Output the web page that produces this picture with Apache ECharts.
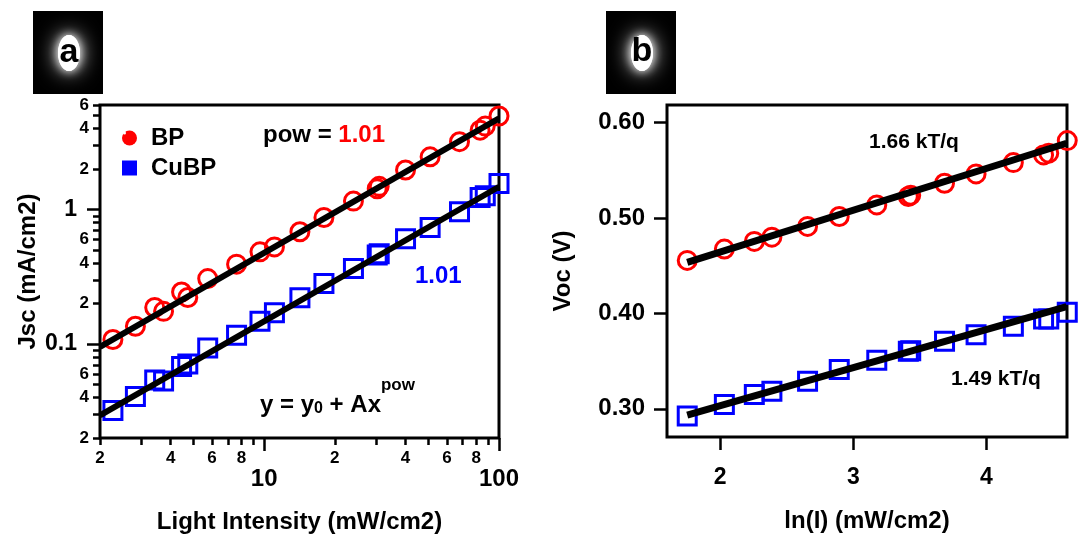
<!DOCTYPE html>
<html>
<head>
<meta charset="utf-8">
<script src="https://cdn.jsdelivr.net/npm/echarts@6/dist/echarts.min.js"></script>
<style>
  html, body { margin: 0; padding: 0; background: #fff; }
  #main { width: 1078px; height: 538px; }
</style>
</head>
<body>
<div id="main"></div>
<script>
// panel a: Jsc vs light intensity (log-log)
var intensity = [2.27, 2.83, 3.42, 3.73, 4.45, 4.73, 5.75, 7.63, 9.6, 11.06, 14.2, 17.97, 24.0, 30.3, 30.9, 40.0, 50.9, 67.9, 83.1, 87.4, 100];
var jscBP = [0.108, 0.1356, 0.187, 0.175, 0.244, 0.222, 0.307, 0.393, 0.485, 0.528, 0.684, 0.874, 1.157, 1.43, 1.49, 1.97, 2.47, 3.2, 3.9, 4.18, 4.97];
var jscCuBP = [0.0321, 0.0408, 0.054, 0.053, 0.068, 0.071, 0.0935, 0.116, 0.148, 0.1706, 0.2205, 0.282, 0.365, 0.46, 0.47, 0.606, 0.736, 0.963, 1.23, 1.27, 1.566];
var fitBP = [[2, 0.0952], [100, 4.77]];
var fitCuBP = [[2, 0.0295], [100, 1.479]];

// panel b: Voc vs ln(I)
var lnI = [1.752, 2.031, 2.256, 2.388, 2.656, 2.894, 3.176, 3.413, 3.431, 3.685, 3.922, 4.202, 4.429, 4.468, 4.607];
var vocBP = [0.4556, 0.4675, 0.4755, 0.480, 0.4912, 0.5016, 0.5138, 0.5226, 0.524, 0.5365, 0.5463, 0.5581, 0.5662, 0.568, 0.5812];
var vocCuBP = [0.2924, 0.3046, 0.315, 0.3185, 0.329, 0.3412, 0.351, 0.3604, 0.361, 0.3708, 0.3778, 0.3865, 0.3942, 0.3942, 0.4012];
var fitVocBP = [[1.752, 0.4535], [4.602, 0.5784]];
var fitVocCuBP = [[1.752, 0.2935], [4.602, 0.4072]];

// ticks
var xMinorTicks = [2, 3, 4, 5, 6, 7, 8, 9, 20, 30, 40, 50, 60, 70, 80, 90];
var xMinorLabels = [2, 4, 6, 8, 20, 40, 60, 80];
var xMajorTicks = [10, 100];
var yMinorTicks = [0.02, 0.03, 0.04, 0.05, 0.06, 0.07, 0.08, 0.09, 0.2, 0.3, 0.4, 0.5, 0.6, 0.7, 0.8, 0.9, 2, 3, 4, 5, 6];
var yMinorLabels = [0.02, 0.04, 0.06, 0.2, 0.4, 0.6, 2, 4, 6];
var yMajorTicks = [0.1, 1];
var vocTicks = [0.30, 0.40, 0.50, 0.60];
var lnITicks = [2, 3, 4];

var FONT = 'Liberation Sans, Arial, sans-serif';

function pairs(xs, ys) {
  return xs.map(function (x, i) { return [x, ys[i]]; });
}
function logs(arr) {
  return arr.map(function (v) { return Math.log10(v); });
}
// first digit of a log-space tick: 20 -> "2", 0.04 -> "4"
function mantissa(v) {
  var n = Math.pow(10, v);
  var e = Math.floor(Math.log10(n) + 1e-9);
  return String(Math.round(n / Math.pow(10, e)));
}
function decade(v) {
  return String(+Math.pow(10, v).toPrecision(3));
}

var tickLine = { color: '#000', width: 2.5 };
var noLine = { show: false, onZero: false };
var nameStyle = { color: '#000', fontSize: 24, fontWeight: 'bold', fontFamily: FONT };

function labelStyle(size, margin, values, fmt) {
  return {
    customValues: values, margin: margin, formatter: fmt,
    color: '#000', fontSize: size, fontWeight: 'bold', fontFamily: FONT
  };
}

var xLogMin = Math.log10(2), xLogMax = Math.log10(100);
var yLogMin = Math.log10(0.02), yLogMax = Math.log10(6);

var chart = echarts.init(document.getElementById('main'));

var option = {
  animation: false,
  backgroundColor: '#fff',
  grid: [
    { left: 100, top: 105, width: 399, height: 333, show: true, borderColor: '#000', borderWidth: 3, outerBoundsMode: 'none' },
    { left: 667, top: 105, width: 400, height: 332, show: true, borderColor: '#000', borderWidth: 3, outerBoundsMode: 'none' }
  ],
  legend: {
    orient: 'vertical', left: 117, top: 121, itemWidth: 15, itemHeight: 15, itemGap: 6,
    textStyle: { color: '#000', fontSize: 24, fontWeight: 'bold', fontFamily: FONT, padding: [0, 0, 0, 9] },
    data: [
      { name: 'BP', icon: 'circle', itemStyle: { color: '#ff0000', borderColor: '#ff0000', borderWidth: 0, opacity: 1 } },
      { name: 'CuBP', icon: 'rect', itemStyle: { color: '#0000ff', borderColor: '#0000ff', borderWidth: 0, opacity: 1 } }
    ]
  },
  xAxis: [
    {
      gridIndex: 0, type: 'log', logBase: 10, min: 2, max: 100,
      name: 'Light Intensity (mW/cm2)', nameLocation: 'middle', nameGap: 72, nameTextStyle: nameStyle, nameMoveOverlap: false,
      axisLine: noLine, axisTick: { show: false }, axisLabel: { show: false }, splitLine: { show: false }
    },
    {
      gridIndex: 0, type: 'value', position: 'bottom', min: xLogMin, max: xLogMax,
      axisLine: noLine, splitLine: { show: false },
      axisTick: { customValues: logs(xMinorTicks), length: 7, lineStyle: tickLine },
      axisLabel: labelStyle(17, 12, logs(xMinorLabels), mantissa)
    },
    {
      gridIndex: 0, type: 'value', position: 'bottom', min: xLogMin, max: xLogMax,
      axisLine: noLine, splitLine: { show: false },
      axisTick: { customValues: logs(xMajorTicks), length: 13, lineStyle: tickLine },
      axisLabel: labelStyle(24, 29, logs(xMajorTicks), decade)
    },
    {
      gridIndex: 1, type: 'value', min: 1.6, max: 4.605,
      name: 'ln(I) (mW/cm2)', nameLocation: 'middle', nameGap: 72, nameTextStyle: nameStyle, nameMoveOverlap: false,
      axisLine: noLine, splitLine: { show: false },
      axisTick: { customValues: lnITicks, length: 13, lineStyle: tickLine },
      axisLabel: labelStyle(23, 29, lnITicks, function (v) { return String(v); })
    }
  ],
  yAxis: [
    {
      gridIndex: 0, type: 'log', logBase: 10, min: 0.02, max: 6,
      name: 'Jsc (mA/cm2)', nameLocation: 'middle', nameGap: 60, nameTextStyle: nameStyle, nameMoveOverlap: false,
      axisLine: noLine, axisTick: { show: false }, axisLabel: { show: false }, splitLine: { show: false }
    },
    {
      gridIndex: 0, type: 'value', position: 'left', min: yLogMin, max: yLogMax,
      axisLine: noLine, splitLine: { show: false },
      axisTick: { customValues: logs(yMinorTicks), length: 7, lineStyle: tickLine },
      axisLabel: labelStyle(17, 11, logs(yMinorLabels), mantissa)
    },
    {
      gridIndex: 0, type: 'value', position: 'left', min: yLogMin, max: yLogMax,
      axisLine: noLine, splitLine: { show: false },
      axisTick: { customValues: logs(yMajorTicks), length: 13, lineStyle: tickLine },
      axisLabel: labelStyle(23, 23, logs(yMajorTicks), decade)
    },
    {
      gridIndex: 1, type: 'value', min: 0.2705, max: 0.6185,
      name: 'Voc (V)', nameLocation: 'middle', nameGap: 92, nameTextStyle: nameStyle, nameMoveOverlap: false,
      axisLine: noLine, splitLine: { show: false },
      axisTick: { customValues: vocTicks, length: 13, lineStyle: tickLine },
      axisLabel: labelStyle(24, 22, vocTicks, function (v) { return v.toFixed(2); })
    }
  ],
  series: [
    {
      name: 'BP', type: 'scatter', xAxisIndex: 0, yAxisIndex: 0, data: pairs(intensity, jscBP),
      symbol: 'circle', symbolSize: 18, clip: false,
      itemStyle: { color: 'rgba(0,0,0,0)', borderColor: '#ff0000', borderWidth: 3, opacity: 1 }
    },
    {
      name: 'CuBP', type: 'scatter', xAxisIndex: 0, yAxisIndex: 0, data: pairs(intensity, jscCuBP),
      symbol: 'rect', symbolSize: 18, clip: false,
      itemStyle: { color: 'rgba(0,0,0,0)', borderColor: '#0000ff', borderWidth: 3, opacity: 1 }
    },
    {
      type: 'line', xAxisIndex: 0, yAxisIndex: 0, data: fitBP, symbol: 'none', z: 5, clip: false,
      lineStyle: { color: '#000', width: 6 }
    },
    {
      type: 'line', xAxisIndex: 0, yAxisIndex: 0, data: fitCuBP, symbol: 'none', z: 5, clip: false,
      lineStyle: { color: '#000', width: 6 }
    },
    {
      name: 'BP', type: 'scatter', xAxisIndex: 3, yAxisIndex: 3, data: pairs(lnI, vocBP),
      symbol: 'circle', symbolSize: 18, clip: false,
      itemStyle: { color: 'rgba(0,0,0,0)', borderColor: '#ff0000', borderWidth: 3, opacity: 1 }
    },
    {
      name: 'CuBP', type: 'scatter', xAxisIndex: 3, yAxisIndex: 3, data: pairs(lnI, vocCuBP),
      symbol: 'rect', symbolSize: 18, clip: false,
      itemStyle: { color: 'rgba(0,0,0,0)', borderColor: '#0000ff', borderWidth: 3, opacity: 1 }
    },
    {
      type: 'line', xAxisIndex: 3, yAxisIndex: 3, data: fitVocBP, symbol: 'none', z: 5, clip: false,
      lineStyle: { color: '#000', width: 7 }
    },
    {
      type: 'line', xAxisIndex: 3, yAxisIndex: 3, data: fitVocCuBP, symbol: 'none', z: 5, clip: false,
      lineStyle: { color: '#000', width: 7 }
    }
  ],
  graphic: [
    // panel badges
    { type: 'rect', shape: { x: 33, y: 11, width: 70, height: 83 }, style: { fill: '#000' } },
    { type: 'ellipse', shape: { cx: 69, cy: 53, rx: 11, ry: 18 }, style: { fill: '#fff', shadowBlur: 22, shadowColor: '#fff' } },
    { type: 'ellipse', shape: { cx: 69, cy: 53, rx: 11, ry: 18 }, style: { fill: '#fff', shadowBlur: 10, shadowColor: '#fff' } },
    { type: 'text', style: { text: 'a', x: 69, y: 53, align: 'center', verticalAlign: 'middle', fill: '#000', font: 'bold 34px "Liberation Sans Narrow", ' + FONT } },
    { type: 'rect', shape: { x: 606, y: 11, width: 70, height: 83 }, style: { fill: '#000' } },
    { type: 'ellipse', shape: { cx: 642, cy: 53, rx: 11, ry: 18 }, style: { fill: '#fff', shadowBlur: 22, shadowColor: '#fff' } },
    { type: 'ellipse', shape: { cx: 642, cy: 53, rx: 11, ry: 18 }, style: { fill: '#fff', shadowBlur: 10, shadowColor: '#fff' } },
    { type: 'text', style: { text: 'b', x: 642, y: 52, align: 'center', verticalAlign: 'middle', fill: '#000', font: 'bold 34px "Liberation Sans Narrow", ' + FONT } },
    // white dot in the BP legend marker
    { type: 'circle', z: 200, shape: { cx: 124.5, cy: 133, r: 1.5 }, style: { fill: '#fff' } },
    // annotations
    {
      type: 'text', style: {
        x: 263, y: 135, verticalAlign: 'middle', text: '{k|pow = }{r|1.01}',
        rich: {
          k: { fontSize: 24, fontWeight: 'bold', fontFamily: FONT, fill: '#000' },
          r: { fontSize: 24, fontWeight: 'bold', fontFamily: FONT, fill: '#ff0000' }
        }
      }
    },
    { type: 'text', style: { x: 415, y: 276, verticalAlign: 'middle', text: '1.01', fill: '#0000ff', font: 'bold 24px ' + FONT } },
    {
      type: 'text', style: {
        x: 260, y: 377, verticalAlign: 'top', text: '{n|y = y}{sub|0}{n| + Ax}{sup|pow}',
        rich: {
          n: { fontSize: 24, fontWeight: 'bold', fontFamily: FONT, fill: '#000', lineHeight: 40, verticalAlign: 'bottom' },
          sub: { fontSize: 16, fontWeight: 'bold', fontFamily: FONT, fill: '#000', lineHeight: 25, verticalAlign: 'bottom' },
          sup: { fontSize: 17, fontWeight: 'bold', fontFamily: FONT, fill: '#000', lineHeight: 10, verticalAlign: 'top' }
        }
      }
    },
    { type: 'text', style: { x: 869, y: 142, verticalAlign: 'middle', text: '1.66 kT/q', fill: '#000', font: 'bold 21px ' + FONT } },
    { type: 'text', style: { x: 951, y: 379, verticalAlign: 'middle', text: '1.49 kT/q', fill: '#000', font: 'bold 21px ' + FONT } }
  ]
};

chart.setOption(option);
</script>
</body>
</html>
